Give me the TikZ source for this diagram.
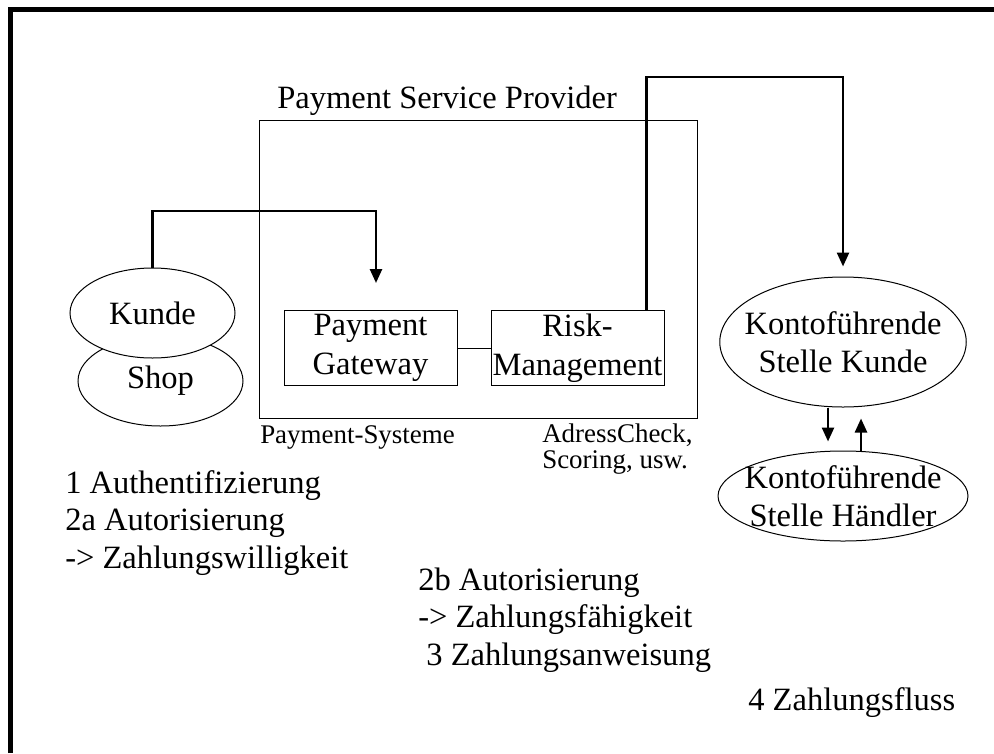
\documentclass[tikz,border=0pt]{standalone}
\usepackage{fontspec}
\setmainfont{Liberation Serif}
\usetikzlibrary{shapes.geometric}
\usetikzlibrary{arrows.meta}
\newcommand{\sizebig}{\fontsize{24.4}{28.1}\selectfont}
\newcommand{\sizebox}{\fontsize{24.4}{29.4}\selectfont}
\newcommand{\sizesmall}{\fontsize{20.2}{18.8}\selectfont}
\tikzset{
    common/.style={draw, line width=0.75pt, inner sep=0pt, font=\sizebig, align=center},
    partbox/.style={common, rectangle, font=\sizebox, minimum width=129.75pt, minimum height=56.25pt},
    party/.style={common, ellipse},
    bank/.style={party, inner xsep=-8.5pt, inner ysep=-5pt},
    note/.style={anchor=base west, inner sep=0pt, align=left, font=\sizebig},
    smallnote/.style={note, font=\sizesmall},
    flow/.style={line width=1.9pt, -{Triangle[length=10.5pt, width=9pt]}},
    link/.style={line width=0.75pt},
    frame/.style={line width=3.75pt}
}

\begin{document}
\begin{tikzpicture}[x=0.75pt, y=-0.75pt]
    \useasboundingbox (0,0) rectangle (994,753);
    \draw[frame] (10.8,753) -- (10.8,9.3) -- (994,9.3);

    % payment service provider
    \node[draw, link, minimum width=328.5pt, minimum height=223.5pt] (psp) at (478,269) {};
    \node[note] (psplabel) at (277,108) {Payment Service Provider};
    \node[partbox] (gateway) at (370.5,348) {Payment\\Gateway};
    \node[partbox] (risk) at (577.5,348) {Risk-\\Management};
    \draw[link] (gateway) -- (risk);
    \node[smallnote] (systeme) at (260,443) {Payment-Systeme};
    \node[smallnote] (checks) at (542,468) {AdressCheck,\\Scoring, usw.};

    % kunde / shop
    \node[party, minimum width=123.75pt, minimum height=67.5pt] (shop) at (160.5,381) {Shop};
    \node[party, fill=white, minimum width=123.75pt, minimum height=67.5pt] (kunde) at (152.5,313) {Kunde};

    % banks
    \node[bank, minimum width=184.5pt, minimum height=97.5pt] (ksk) at (843,342) {Kontoführende\\Stelle Kunde};
    \node[bank, minimum width=187.5pt, minimum height=67.5pt] (ksh) at (843,496) {Kontoführende\\Stelle Händler};

    \coordinate (kbend) at (376,211);
    \coordinate (rbend) at (843,77);
    \draw[flow, shorten >=20.25pt] (kunde.north) |- (kbend) -- (kbend |- gateway.north);
    \draw[flow, shorten >=7.5pt] ([xshift=-13.5pt]risk.north east) |- (rbend) -- (ksk.north);
    \draw[flow, shorten >=6.75pt] ([xshift=-11.25pt]ksk.south) -- ([xshift=-11.25pt]ksh.north);
    \draw[flow, shorten >=8.25pt] ([xshift=13.5pt]ksh.north) -- ([xshift=13.5pt]ksk.south);

    % steps
    \node[note] (steps) at (65,568) {1 Authentifizierung\\2a Autorisierung\\-> Zahlungswilligkeit};
    \node[note] (auth) at (418,665) {2b Autorisierung\\-> Zahlungsfähigkeit\\\hspace*{6.1pt}3 Zahlungsanweisung};
    \node[note] (fluss) at (748,710) {4 Zahlungsfluss};
\end{tikzpicture}
\end{document}
